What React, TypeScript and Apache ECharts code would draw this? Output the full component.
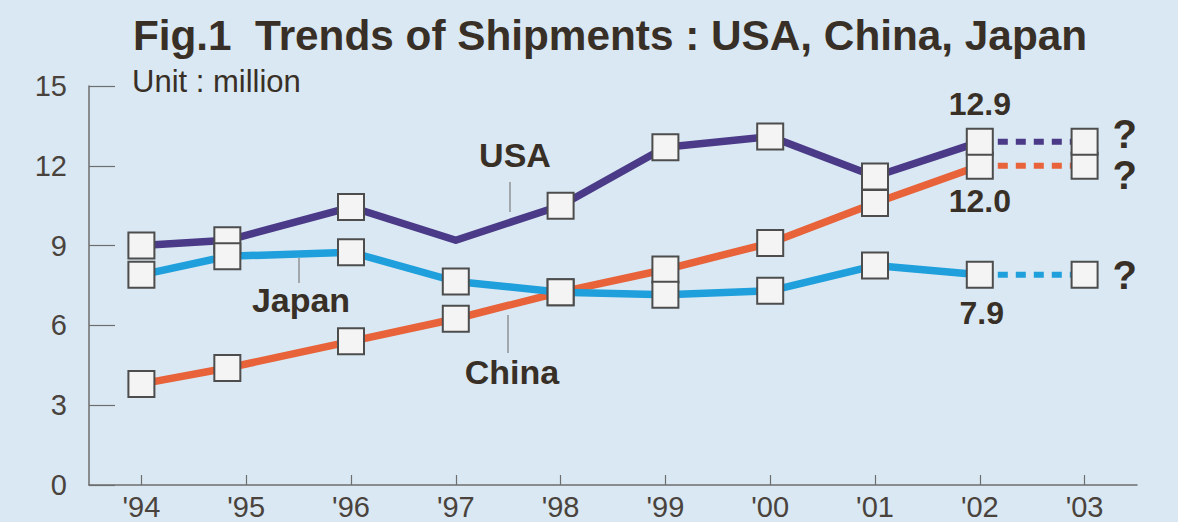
import React, { useEffect, useRef } from "react";
import * as echarts from "echarts";

// ---- data ----
const TITLE = "Fig.1  Trends of Shipments : USA, China, Japan";
const UNIT = "Unit : million";
const tickYears = [1994, 1995, 1996, 1997, 1998, 1999, 2000, 2001, 2002, 2003];
const tickLabels = ["'94", "'95", "'96", "'97", "'98", "'99", "'00", "'01", "'02", "'03"];
const pointYears = [1994, 1994.82, 1996, 1997, 1998, 1999, 2000, 2001, 2002];
const usa = [9.0, 9.2, 10.45, 9.2, 10.5, 12.7, 13.1, 11.6, 12.9];
const china = [3.8, 4.4, 5.4, 6.25, 7.25, 8.1, 9.1, 10.6, 12.0];
const japan = [7.9, 8.6, 8.75, 7.65, 7.25, 7.15, 7.3, 8.25, 7.9];
const usaMarked = [true, true, true, false, true, true, true, true, true];
const allMarked = [true, true, true, true, true, true, true, true, true];
const outlookYear = 2003;
const usaOutlook = 12.9;
const chinaOutlook = 12.0;
const japanOutlook = 7.9;
const yTicks = { min: 0, max: 15, interval: 3 };

const USA_COLOR = "#4a3a88";
const CHINA_COLOR = "#e8623a";
const JAPAN_COLOR = "#1f9fdc";

export default function App() {
  const ref = useRef<HTMLDivElement>(null);
  useEffect(() => {
    const chart = echarts.init(ref.current!, null, { renderer: "svg" });
    const font = '"Liberation Sans", Arial, Helvetica, sans-serif';
    const ink = "#382f27";
    const axisInk = "#4a433d";
    const axisColor = "#6e6e6e";
    const last = pointYears.length - 1;

    const xy = (vals: number[]) => pointYears.map((y, i) => [y, vals[i]]);
    const lineSeries = (name: string, vals: number[], outlook: number, color: string) => [
      {
        type: "line",
        name,
        data: xy(vals),
        symbol: "none",
        silent: true,
        lineStyle: { color, width: 7.5, cap: "round", join: "round" },
        z: 2,
      },
      {
        type: "line",
        name: name + " outlook",
        data: [
          [pointYears[last], vals[last]],
          [outlookYear, outlook],
        ],
        symbol: "none",
        silent: true,
        lineStyle: { color, width: 6, type: [10, 8], cap: "butt" },
        z: 2,
      },
    ];
    const markerSeries = (
      name: string,
      vals: number[],
      marked: boolean[],
      outlook: number,
      valueLabel: any,
      qLabel: any
    ) => ({
      type: "scatter",
      name: name + " markers",
      z: 5,
      silent: true,
      symbol: "rect",
      symbolSize: 26,
      itemStyle: { color: "#f3f4f3", borderColor: "#4d4d4d", borderWidth: 2, opacity: 1 },
      label: { show: false },
      data: [
        ...pointYears
          .map((y, i) =>
            marked[i] ? { value: [y, vals[i]], label: i === last ? valueLabel : { show: false } } : null
          )
          .filter(Boolean),
        { value: [outlookYear, outlook], label: qLabel },
      ],
    });
    const vLabel = (position: string, distance: number, offset: number[] = [0, 0]) => ({
      show: true,
      position,
      distance,
      offset,
      formatter: (p: any) => Number(p.value[1]).toFixed(1),
      fontSize: 32,
      fontWeight: "bold",
      fontFamily: font,
      color: ink,
    });
    const qLabel = (dy: number) => ({
      show: true,
      position: "right",
      distance: 14,
      offset: [0, dy],
      formatter: "?",
      fontSize: 40,
      fontWeight: "bold",
      fontFamily: font,
      color: ink,
    });

    const txt = (text: string, x: number, y: number, size: number, weight = "bold", align = "center") => ({
      type: "text",
      x,
      y,
      silent: true,
      style: {
        text,
        fill: ink,
        fontSize: size,
        fontWeight: weight,
        fontFamily: font,
        align,
        verticalAlign: "middle",
      },
    });
    const leader = (x: number, y1: number, y2: number) => ({
      type: "line",
      silent: true,
      shape: { x1: x, y1, x2: x, y2 },
      style: { stroke: "#7c7c7c", lineWidth: 1.2 },
    });

    chart.setOption({
      animation: false,
      backgroundColor: "#d9e8f2",
      grid: { left: 89, right: 41, top: 86, bottom: 37, containLabel: false },
      xAxis: {
        type: "value",
        min: 1993.5,
        max: 2003.5,
        axisLine: { show: true, lineStyle: { color: axisColor, width: 1.5 } },
        axisTick: {
          show: true,
          inside: true,
          length: 10,
          customValues: tickYears,
          lineStyle: { color: axisColor, width: 1.2 },
        },
        axisLabel: {
          customValues: tickYears,
          formatter: (v: number) => tickLabels[tickYears.indexOf(Math.round(v))] ?? "",
          fontSize: 29,
          fontFamily: font,
          color: axisInk,
          margin: 7,
        },
        splitLine: { show: false },
      },
      yAxis: {
        type: "value",
        min: yTicks.min,
        max: yTicks.max,
        interval: yTicks.interval,
        axisLine: { show: true, lineStyle: { color: axisColor, width: 1.5 } },
        axisTick: { show: true, inside: true, length: 26, lineStyle: { color: axisColor, width: 1.2 } },
        axisLabel: { fontSize: 29, fontFamily: font, color: axisInk, margin: 22 },
        splitLine: { show: false },
      },
      series: [
        ...lineSeries("USA", usa, usaOutlook, USA_COLOR),
        ...lineSeries("China", china, chinaOutlook, CHINA_COLOR),
        ...lineSeries("Japan", japan, japanOutlook, JAPAN_COLOR),
        markerSeries("China", china, allMarked, chinaOutlook, vLabel("bottom", 5), qLabel(9)),
        markerSeries("USA", usa, usaMarked, usaOutlook, vLabel("top", 8), qLabel(-8)),
        markerSeries("Japan", japan, allMarked, japanOutlook, vLabel("bottom", 8, [2, 0]), qLabel(0)),
      ],
      graphic: [
        txt(TITLE, 610, 35, 42.3),
        txt(UNIT, 132, 81, 31, "normal", "left"),
        txt("USA", 515, 155, 34),
        leader(510, 182, 212),
        txt("Japan", 301, 300, 34),
        leader(299, 258, 283),
        txt("China", 512, 372, 34),
        leader(508, 315, 353),
      ],
    });
    return () => chart.dispose();
  }, []);
  return (
    <div
      ref={ref}
      style={{ position: "fixed", left: 0, top: 0, width: 1178, height: 522, background: "#d9e8f2" }}
    />
  );
}
